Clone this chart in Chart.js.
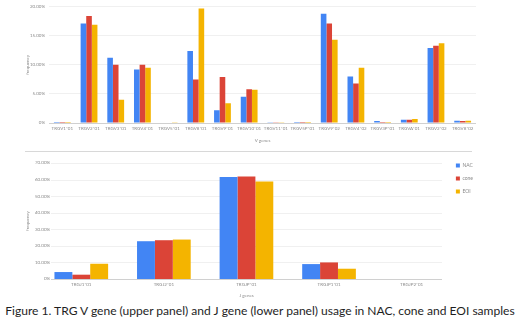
<!DOCTYPE html>
<html>
<head>
<meta charset="utf-8">
<script src="https://cdn.jsdelivr.net/npm/chart.js@4"></script>
<style>
  html, body { margin:0; padding:0; background:#fff; }
  body { width:520px; height:334px; position:relative; overflow:hidden; font-family:Lato, "Open Sans", sans-serif; }
  #c1 { position:absolute; left:0; top:0; }
  #c2 { position:absolute; left:0; top:152px; }
  #sep { position:absolute; left:25px; top:151px; width:447px; height:0; border-top:1px solid #d8d8d8; }
  #cap { position:absolute; left:0; width:520px; top:303px; text-align:center; color:#1e1e1e; white-space:nowrap; font-size:13px; }
</style>
</head>
<body>
<canvas id="c1" width="490" height="143"></canvas>
<div id="sep"></div>
<canvas id="c2" width="488" height="146"></canvas>
<div id="cap"><span id="capt">Figure 1. TRG V gene (upper panel) and J gene (lower panel) usage in NAC, cone and EOI samples</span></div>
<script>
// ---- data ----
const vGenes = ["TRGV1*01","TRGV2*01","TRGV3*01","TRGV4*01","TRGV5*01","TRGV8*01","TRGV9*01","TRGV10*01",
                "TRGV11*01","TRGV5P*01","TRGV9*02","TRGV4*02","TRGV3P*01","TRGVA*01","TRGV2*02","TRGV8*02"];
const vNAC  = [0.02,17.1,11.2, 9.2,0.10,12.4,2.2,4.5,0.15,0.02,18.8, 8.0,0.35,0.55,12.9,0.40];
const vCone = [0.01,18.4,10.0,10.0,0.10, 7.5,7.9,5.8,0.05,0.01,17.1, 6.8,0.02,0.55,13.3,0.35];
const vEOI  = [0.01,16.9, 4.0, 9.5,0.05,19.7,3.4,5.7,0.03,0.01,14.3, 9.5,0.02,0.70,13.7,0.40];
const vTicks = [0,5,10,15,20];

const jGenes = ["TRGJ1*01","TRGJ2*01","TRGJP*01","TRGJP1*01","TRGJP2*01"];
const jNAC  = [4.2,22.8,61.6, 9.0,0];
const jCone = [2.6,23.4,61.8,10.0,0];
const jEOI  = [9.2,23.8,58.8, 6.2,0];
const jTicks = [0,10,20,30,40,50,60,70];

const seriesNames = ["NAC","cone","EOI"];
const colors = ["#4285F4","#DB4437","#F4B400"];

// ---- helpers ----
const pct = v => v === 0 ? "0%" : v.toFixed(2) + "%";
const gridColor = v => v === 0 ? "#c4c4c4" : "#ececec";
function yScale(max, ticks, title, width, tickOpts, showGrid){
  return {
    min:0, max:max,
    afterBuildTicks: s => { s.ticks = ticks.map(v => ({value:v})); },
    afterFit: s => { s.width = width; },
    ticks:Object.assign({ callback: v => pct(v), font:{size:4.5, family:"Lato"}, color:"#8a8a8a" }, tickOpts),
    grid:{ display:showGrid, color: c => gridColor(c.tick ? c.tick.value : 1), drawTicks:false, lineWidth:0.8 },
    border:{ display:false },
    title:{ display:true, text:title, font:{size:4.5, family:"Lato"}, color:"#8a8a8a", padding:{top:25,bottom:0} }
  };
}
function xScale(title, height){
  return {
    afterFit: s => { s.height = height; },
    ticks:{ font:{size:4.5, family:"Lato"}, color:"#8a8a8a", maxRotation:0, autoSkip:false, padding:3 },
    grid:{ display:false, drawTicks:false },
    border:{ display:false },
    title:{ display:true, text:title, font:{size:4.5, family:"Lato"}, color:"#8a8a8a", padding:{top:0,bottom:0} }
  };
}
function ds(vals, cp){
  return vals.map((d,i) => ({ label:seriesNames[i], data:d, backgroundColor:colors[i], borderWidth:0,
    barPercentage:1, categoryPercentage:cp }));
}

// gridlines drawn through the y scale, over a limited horizontal span
const spanGrid = {
  id:"spanGrid",
  beforeDatasetsDraw(chart, args, opts){
    const y = chart.scales.y, ctx = chart.ctx;
    ctx.save();
    ctx.lineWidth = 0.8;
    y.ticks.forEach(t => {
      const py = Math.round(y.getPixelForValue(t.value)) + 0.5;
      ctx.strokeStyle = gridColor(t.value);
      ctx.beginPath(); ctx.moveTo(opts.start, py); ctx.lineTo(opts.end, py); ctx.stroke();
    });
    ctx.restore();
  }
};
const legendShift = {
  id:"legendShift",
  afterLayout(chart, args, opts){
    const l = chart.legend;
    if (!l) return;
    l.left += opts.dx; l.right += opts.dx; l.top += opts.dy; l.bottom += opts.dy;
  }
};

new Chart(document.getElementById("c1"), {
  type:"bar",
  data:{ labels:vGenes, datasets:ds([vNAC,vCone,vEOI], 0.63) },
  options:{
    responsive:false, animation:false,
    layout:{ padding:{ top:6, right:14, left:0, bottom:0 } },
    plugins:{ legend:{display:false}, tooltip:{enabled:false} },
    scales:{ x:xScale("V genes", 20), y:yScale(20, vTicks, "frequency", 49, {padding:4}, true) }
  }
});

new Chart(document.getElementById("c2"), {
  type:"bar",
  data:{ labels:jGenes, datasets:ds([jNAC,jCone,jEOI], 0.65) },
  plugins:[spanGrid, legendShift],
  options:{
    responsive:false, animation:false,
    layout:{ padding:{ top:11, right:0, left:0, bottom:0 } },
    plugins:{
      spanGrid:{ start:51, end:442 },
      legendShift:{ dx:-5, dy:-8 },
      legend:{ display:true, position:"right", align:"start",
        labels:{ boxWidth:4, boxHeight:4, font:{size:5, family:"Lato"}, color:"#8a8a8a", padding:8 } },
      tooltip:{enabled:false}
    },
    scales:{ x:xScale("J genes", 19),
             y:yScale(70, jTicks, "frequency", 40, {mirror:true, crossAlign:"far", padding:-5}, false) }
  }
});

// fit caption width to ~510px
const sp = document.getElementById("capt");
const w = sp.getBoundingClientRect().width;
document.getElementById("cap").style.fontSize = (13 * 510 / w) + "px";
</script>
</body>
</html>
